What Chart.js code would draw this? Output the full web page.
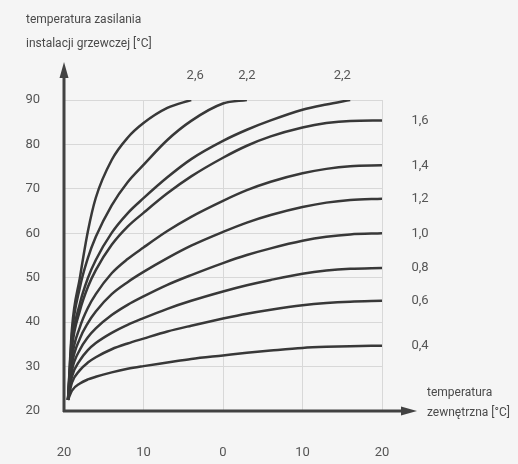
<!DOCTYPE html>
<html>
<head>
<meta charset="utf-8">
<script src="https://cdn.jsdelivr.net/npm/chart.js@4"></script>
<style>
  html, body { margin: 0; padding: 0; background: #f5f5f5; }
  canvas { display: block; }
</style>
</head>
<body>
<canvas id="heatChart" width="518" height="464"></canvas>
<script>
// outdoor temperature (x) and supply temperature for each heating curve
const outdoorTemps = [19.5, 19, 18, 17, 16, 14, 12, 10, 7, 4, 0, -3, -6, -10, -13, -16, -20];
const curve26 = [22.5, 38.5, 50, 60.4, 68, 76.5, 81.5, 84.8, 88.2, 90];
const curve22a = [22.5, 37.2, 47.8, 54.4, 59.2, 66.3, 71.5, 75.4, 81, 85.3, 89.2, 90];
const curve22b = [22.5, 35.1, 44.2, 49.9, 54, 60.1, 64.5, 67.9, 72.6, 76.7, 80.8, 83.3, 85.4, 87.8, 89, 90];
const curve16 = [22.5, 34.2, 42.6, 47.9, 51.7, 57.4, 61.5, 64.6, 69, 72.8, 77, 79.7, 81.8, 83.8, 84.8, 85.3, 85.4];
const curve14 = [22.5, 32, 38.9, 43.2, 46.3, 51, 54.2, 56.8, 60.5, 63.7, 67.3, 69.7, 71.6, 73.5, 74.5, 75.1, 75.3];
const curve12 = [22.5, 30.5, 36.3, 39.8, 42.4, 46.3, 49, 51.3, 54.4, 57.2, 60.3, 62.4, 64.1, 65.9, 66.9, 67.5, 67.8];
const curve10 = [22.5, 29.1, 33.8, 36.6, 38.6, 41.6, 43.9, 45.8, 48.4, 50.6, 53.3, 55.1, 56.6, 58.3, 59.2, 59.75, 60];
const curve08 = [22.5, 27.7, 31.4, 33.7, 35.3, 37.6, 39.4, 40.9, 43, 44.8, 46.9, 48.3, 49.5, 50.9, 51.6, 52, 52.2];
const curve06 = [22.5, 26.4, 29.2, 30.9, 32.1, 33.9, 35.2, 36.3, 37.9, 39.2, 40.8, 41.9, 42.8, 43.8, 44.3, 44.6, 44.8];
const curve04 = [22.5, 24.6, 26.2, 27.1, 27.7, 28.7, 29.5, 30.1, 30.9, 31.7, 32.5, 33.1, 33.6, 34.2, 34.45, 34.6, 34.7];

const curveLabels = ['2,6', '2,2', '2,2', '1,6', '1,4', '1,2', '1,0', '0,8', '0,6', '0,4'];
const topLabelTemps = [3.5, -3, -15];   // where the labels of the steep curves sit

const yTitle = ['temperatura zasilania', 'instalacji grzewczej [°C]'];
const xTitle = ['temperatura', 'zewnętrzna [°C]'];

const FONT = "'Roboto', 'Liberation Sans', sans-serif";
const curves = [curve26, curve22a, curve22b, curve16, curve14, curve12, curve10, curve08, curve06, curve04];

const datasets = curves.map((vals, i) => ({
    label: curveLabels[i],
    data: vals.map((v, j) => ({ x: outdoorTemps[j], y: v })),
    borderColor: '#383838',
    borderWidth: 2.5,
    pointRadius: 0,
    cubicInterpolationMode: 'monotone',
    fill: false
}));

const decorPlugin = {
    id: 'decor',
    afterDraw(chart) {
        const c = chart.ctx, xs = chart.scales.x, ys = chart.scales.y;
        const left = xs.getPixelForValue(20), bottom = ys.getPixelForValue(20);
        c.save();
        // axes with arrows
        c.strokeStyle = '#424242'; c.fillStyle = '#424242'; c.lineWidth = 3;
        c.beginPath();
        c.moveTo(left, bottom + 1); c.lineTo(left, 76);
        c.moveTo(left - 1, bottom); c.lineTo(402, bottom);
        c.stroke();
        c.beginPath();
        c.moveTo(left, 62); c.lineTo(left - 4.5, 78); c.lineTo(left + 4.5, 78); c.closePath();
        c.fill();
        c.beginPath();
        c.moveTo(417, bottom); c.lineTo(401, bottom - 4.5); c.lineTo(401, bottom + 4.5); c.closePath();
        c.fill();

        // axis titles
        c.font = '12px ' + FONT;
        c.fillStyle = '#4a4a4a';
        c.textAlign = 'left'; c.textBaseline = 'middle';
        c.fillText(yTitle[0], 26, 20);
        c.fillText(yTitle[1], 26, 44);
        c.fillText(xTitle[0], 427, 393);
        c.fillText(xTitle[1], 427, 413);

        // curve labels
        c.font = '13px ' + FONT;
        c.fillStyle = '#555';
        c.textAlign = 'center';
        chart.data.datasets.forEach((ds, i) => {
            if (i < topLabelTemps.length) {
                c.fillText(ds.label, xs.getPixelForValue(topLabelTemps[i]), chart.chartArea.top - 24);
            } else {
                const last = ds.data[ds.data.length - 1];
                c.fillText(ds.label, xs.getPixelForValue(last.x) + 38, ys.getPixelForValue(last.y));
            }
        });
        c.restore();
    }
};

new Chart(document.getElementById('heatChart').getContext('2d'), {
    type: 'line',
    data: { datasets: datasets },
    options: {
        responsive: false,
        animation: false,
        layout: { padding: { top: 100, right: 136, left: 24, bottom: 0 } },
        plugins: { legend: { display: false }, tooltip: { enabled: false } },
        scales: {
            x: {
                type: 'linear', reverse: true, min: -20, max: 20,
                border: { display: false },
                grid: { color: '#d8d8d8', lineWidth: 1, drawTicks: false },
                ticks: {
                    stepSize: 10, padding: 34, color: '#555',
                    font: { family: FONT, size: 13 },
                    callback: v => String(Math.abs(v))
                },
                afterFit: axis => { axis.height = 53; }
            },
            y: {
                min: 20, max: 90,
                border: { display: false },
                grid: { color: '#d8d8d8', lineWidth: 1, drawTicks: false },
                ticks: {
                    stepSize: 10, padding: 24, color: '#555',
                    font: { family: FONT, size: 13 }
                },
                afterFit: axis => { axis.width = 40; }
            }
        }
    },
    plugins: [decorPlugin]
});
</script>
</body>
</html>
